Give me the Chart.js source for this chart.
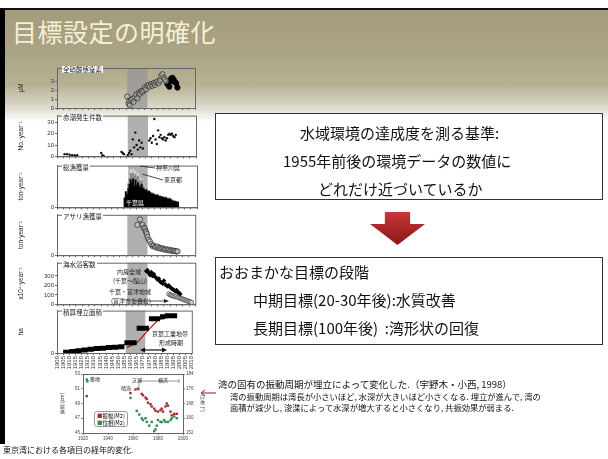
<!DOCTYPE html>
<html>
<head>
<meta charset="utf-8">
<script src="https://cdn.jsdelivr.net/npm/chart.js@4/dist/chart.umd.min.js"></script>
<style>
body { margin:0; width:608px; height:459px; overflow:hidden; background:#fff; font-family:"Noto Sans CJK JP", sans-serif; position:relative; }
#slide { position:absolute; left:0; top:8px; width:608px; height:436px; border-left:5px solid #000; border-top:2px solid #111; box-sizing:border-box;
  background:linear-gradient(180deg, #a39c7b 0px, #aba587 45px, #b8b295 75px, #d8d4c4 95px, #fff 112px); }
#title { position:absolute; left:12px; top:13px; font-size:25px; color:#f4f0d8; letter-spacing:0.5px; }
canvas { position:absolute; }
.lbl { position:absolute; font-size:6.5px; line-height:7px; background:#fff; padding:0 1px; color:#222; white-space:nowrap; }
.ann { position:absolute; font-size:6px; line-height:7px; color:#222; white-space:nowrap; }
.box { position:absolute; border:1px solid #333; background:#fff; box-sizing:border-box; }
.t15 { position:absolute; font-size:15px; color:#111; white-space:nowrap; }
#arrow { position:absolute; left:370px; top:212px; width:55px; height:33px;
  background:linear-gradient(180deg,#c7383a,#8e1515); clip-path:polygon(27% 0,73% 0,73% 36%,100% 36%,50% 100%,0 36%,27% 36%); }
.note { position:absolute; white-space:nowrap; color:#111; }
</style>
</head>
<body>
<div id="slide"></div>
<div id="title">目標設定の明確化</div>

<canvas id="p1" width="183" height="50" style="left:17px;top:63px"></canvas>
<canvas id="p2" width="183" height="50" style="left:17px;top:111px"></canvas>
<canvas id="p3" width="183" height="51" style="left:17px;top:161px"></canvas>
<canvas id="p4" width="183" height="50" style="left:17px;top:210px"></canvas>
<canvas id="p5" width="183" height="51" style="left:17px;top:258px"></canvas>
<canvas id="p6" width="183" height="68" style="left:17px;top:306px"></canvas>
<canvas id="inset" width="145" height="72" style="left:60px;top:370px"></canvas>

<div class="lbl" style="left:62px;top:66px">全硝酸態窒素</div>
<div class="lbl" style="left:62px;top:114px">赤潮発生件数</div>
<div class="lbl" style="left:62px;top:164px">総漁獲量</div>
<div class="lbl" style="left:62px;top:213px">アサリ漁獲量</div>
<div class="lbl" style="left:62px;top:261px">海水浴客数</div>
<div class="lbl" style="left:62px;top:309px">積算埋立面積</div>

<div class="ann" style="left:156px;top:164px">神奈川県</div>
<div class="ann" style="left:164px;top:176px">東京都</div>
<div class="ann" style="left:126px;top:199px;color:#fff">千葉県</div>
<div class="ann" style="left:117px;top:268px">内房全域</div>
<div class="ann" style="left:113px;top:277px">(千葉～館山)</div>
<div class="ann" style="left:109px;top:288px">千葉・富津地域</div>
<div class="ann" style="left:111px;top:297px">(富津市を含む)</div>
<div class="ann" style="left:152px;top:330px">京葉工業地帯</div>
<div class="ann" style="left:159px;top:339px">形成時期</div>

<svg style="position:absolute;left:0;top:0" width="608" height="459">
  <line x1="140" y1="166" x2="155" y2="168" stroke="#222" stroke-width="0.8"/>
  <line x1="142" y1="174" x2="163" y2="180" stroke="#222" stroke-width="0.8"/>
  <line x1="135" y1="301" x2="166" y2="301" stroke="#222" stroke-width="0.8"/>
  <polygon points="169,301 164,299 164,303" fill="#222"/>
  <line x1="143" y1="350" x2="164" y2="350" stroke="#111" stroke-width="1.2"/>
  <polygon points="140,350 145,347.5 145,352.5" fill="#111"/>
  <polygon points="167,350 162,347.5 162,352.5" fill="#111"/>
  <line x1="202" y1="393" x2="216" y2="393" stroke="#8b1a1a" stroke-width="1"/>
  <polyline points="205,390 201,393 205,396" fill="none" stroke="#8b1a1a" stroke-width="1"/>
  <line x1="139" y1="381" x2="179" y2="381" stroke="#555" stroke-width="0.6"/>
  <line x1="139" y1="379" x2="139" y2="391" stroke="#555" stroke-width="0.6"/>
  <line x1="179" y1="379" x2="179" y2="383" stroke="#555" stroke-width="0.6"/>
</svg>

<div class="ann" style="left:90px;top:375px;font-size:5px">築地</div>
<div class="ann" style="left:121px;top:384px;font-size:5px">晴海</div>
<div class="ann" style="left:132px;top:376px;font-size:5px">芝浦</div>
<div class="ann" style="left:158px;top:376px;font-size:5px">横浜</div>
<div style="position:absolute;left:94px;top:411px;width:34px;height:16px;border:0.8px solid #999;border-radius:3px;background:#fff;font-size:5.5px;line-height:7px;padding:1px 2px;box-sizing:border-box;white-space:nowrap">
  <span style="color:#a3302b">■</span>振幅(M2)<br><span style="color:#2e8b57">■</span>位相(M2)
</div>

<div class="note" style="left:3px;top:444px;font-size:8px">東京湾における各項目の経年的変化.</div>

<div class="box" style="left:215px;top:113px;width:388px;height:87px"></div>
<div class="t15" style="left:300px;top:122px">水域環境の達成度を測る基準:</div>
<div class="t15" style="left:283px;top:150px">1955年前後の環境データの数値に</div>
<div class="t15" style="left:318px;top:178px">どれだけ近づいているか</div>

<div id="arrow"></div>

<div class="box" style="left:215px;top:257px;width:388px;height:88px"></div>
<div class="t15" style="left:219px;top:261px">おおまかな目標の段階</div>
<div class="t15" style="left:253px;top:289px">中期目標(20-30年後):水質改善</div>
<div class="t15" style="left:253px;top:317px">長期目標(100年後)&nbsp;&nbsp;:湾形状の回復</div>

<div class="note" style="left:218px;top:377px;font-size:9.5px">湾の固有の振動周期が埋立によって変化した.（宇野木・小西, 1998）</div>
<div class="note" style="left:230px;top:390px;font-size:8.3px">湾の振動周期は湾長が小さいほど, 水深が大きいほど小さくなる. 埋立が進んで, 湾の</div>
<div class="note" style="left:230px;top:401px;font-size:8.3px">面積が減少し, 浚渫によって水深が増大すると小さくなり, 共振効果が弱まる.</div>

<script>
// gray band (high growth period) and data
const bandYears = [1956, 1972];

const nitrateOpenYears = [1956,1957,1957.5,1958,1959,1960,1961,1962,1963,1964,1965,1966,1967,1968,1969,1970,1971,1972,1973,1974,1975,1976,1977,1978,1979,1980,1981,1982,1983,1984,1985,1986,1987];
const nitrateOpen = [1.3,0.5,0.8,0.3,0.9,1.0,0.7,1.2,1.5,1.1,1.7,1.6,1.9,1.8,2.0,2.3,2.1,2.5,2.6,2.4,2.7,2.5,2.8,2.6,2.9,3.0,2.8,3.1,3.6,3.8,3.4,3.2,3.0];
const nitrateFilledYears = [1988,1989,1989.5,1990,1991,1992,1993,1994,1995,1996];
const nitrateFilled = [2.7,2.9,2.4,3.0,3.3,3.4,3.2,2.9,2.8,2.3];

const redTideYears = [1906,1908,1910,1912,1914,1916,1935,1936,1937,1951,1952,1953,1956,1957,1958,1959,1960,1961,1962,1963,1964,1965,1966,1967,1968,1973,1974,1975,1976,1977,1978,1979,1980,1981,1982,1983,1984,1985,1986,1987,1988,1989,1990,1991,1992,1993,1994];
const redTide = [2,2,1.5,1,1,1,3,1,0.5,4,3,2,1,3,5,2,15,8,21,10,6,14,8,12,7,14,16,12,18,33,15,11,23,17,19,16,15,17,14,16,19,20,19,20,18,17,19];

const catchYears = [1953,1954,1955,1956,1957,1958,1959,1960,1961,1962,1963,1964,1965,1966,1967,1968,1969,1970,1971,1972,1973,1974,1975,1976,1977,1978,1979,1980,1981,1982,1983,1984,1985,1986,1987,1988,1989,1990,1991,1992,1993,1994,1995,1996,1997];
const catchChiba = [30000,50000,40000,60000,75000,90000,80000,92000,70000,88000,72000,80000,70000,65000,75000,62000,58000,55000,57000,50000,52000,48000,45000,44000,42000,40000,38000,40000,36000,35000,34000,33000,32000,30000,31000,28000,27000,28000,25000,22000,20000,20000,18000,17000,16000];
const catchTokyo = [0,2000,5000,15000,20000,20000,25000,20000,30000,20000,25000,20000,18000,15000,12000,10000,8000,5000,4000,3000,2000,2000,2000,2000,2000,2000,2000,2000,2000,2000,2000,2000,2000,2000,2000,2000,2000,2000,2000,2000,2000,2000,2000,2000,2000];
const catchKanagawa = [0,0,2000,5000,8000,12000,10000,12000,15000,10000,12000,10000,8000,8000,6000,5000,4000,3000,2000,2000,1500,1500,1500,1500,1500,1500,1500,1500,1500,1500,1500,1500,1500,1500,1500,1500,1500,1500,1500,1500,1500,1500,1500,1500,1500];

const clamYears = [1964,1966,1968,1969,1970,1970.5,1971,1971.5,1972,1973,1974,1975,1976,1977,1978,1979,1980,1981,1982,1983,1984,1985,1986,1987,1988,1989,1990,1991,1992,1993,1994,1995,1996];
const clam = [66000,78000,66000,60000,58000,53000,50000,46000,40000,34000,30000,24000,20000,21000,18000,17000,19000,15000,16000,14000,15000,13000,12000,13000,11000,12000,10000,11000,9000,10000,9000,8000,8500];

const bathInnerYears = [1971,1972,1973,1974,1975,1976,1977,1978,1979,1980,1981,1982,1983,1984,1985,1986,1987,1988,1989,1990,1991,1992,1993,1994,1995,1996,1997,1998];
const bathInner = [350,360,330,310,340,300,320,290,280,260,270,240,230,220,250,210,200,190,200,180,170,160,150,140,150,130,120,110];
const bathFuttsuYears = [1989,1990,1991,1992,1993,1994,1995,1996,1997,1998,1999,2000,2001,2002,2003,2004,2005,2006,2007];
const bathFuttsu = [110,100,95,90,85,80,90,75,70,65,60,55,50,45,40,35,30,25,20];

// each reclamation level is held from its year to the next one
const reclaimYears = [1905,1910,1915,1920,1925,1930,1935,1940,1945,1950,1955,1965,1975,1984,1988,1998];
const reclaim = [500,1000,1500,2000,2500,3000,3300,3700,4000,4300,7000,17000,23500,24800,25500,25500];
const reclaimArrowYears = [1957,1965,1976,1983,1998];
const reclaimArrow = [3700,6800,17000,23000,25500];

const tideYearTicks = [1920,1930,1940,1950,1960,1970,1980,1990,2000];
const ampYears = [1923,1958,1962,1964,1967,1968,1970,1971,1972,1974,1975,1977,1978,1980,1982,1983,1984,1986,1987,1988,1990,1991,1993,1995];
const amp = [50.0,50.4,50.9,51.0,50.3,50.1,49.8,49.6,49.1,48.9,48.6,48.3,48.0,47.9,48.1,48.3,47.9,48.6,49.0,48.7,47.9,47.4,47.6,47.6];
const phaseYears = [1923,1923.5,1958,1963,1965,1967,1968,1970,1971,1973,1975,1977,1978,1979,1980,1982,1983,1985,1986,1988,1990,1991,1993,1995];
const phase = [181,180,171,164,162,160,159,160,158,156,158,153,154,156,159,158,158,159,158,158,159,160,161,160];

const pts = (xs, ys) => xs.map((x, i) => ({ x: x, y: ys[i] }));

// horizontal bars for each reclamation period, separated by gaps
const reclaimSegments = [];
for (let i = 0; i < reclaimYears.length - 1; i++) {
  reclaimSegments.push({ x: reclaimYears[i], y: reclaim[i] }, { x: reclaimYears[i + 1], y: reclaim[i] }, { x: reclaimYears[i + 1], y: null });
}

const plain = v => String(v);

const boxAndBand = {
  id: 'boxAndBand',
  beforeDatasetsDraw(chart, args, opts) {
    if (!opts.band) return;
    const a = chart.chartArea, x = chart.scales.x, ctx = chart.ctx;
    const x0 = x.getPixelForValue(bandYears[0]), x1 = x.getPixelForValue(bandYears[1]);
    ctx.save();
    ctx.fillStyle = 'rgba(150,150,150,0.75)';
    ctx.fillRect(x0, a.top, x1 - x0, a.bottom - a.top);
    ctx.restore();
  },
  afterDraw(chart) {
    const a = chart.chartArea, ctx = chart.ctx;
    ctx.save();
    ctx.strokeStyle = '#666';
    ctx.lineWidth = 1;
    ctx.strokeRect(a.left + 0.5, a.top + 0.5, a.right - a.left, a.bottom - a.top);
    ctx.restore();
  }
};
Chart.register(boxAndBand);

function panel(id, yMax, yStep, yTitle, datasets, bottom, stackY) {
  return new Chart(document.getElementById(id), {
    data: { datasets: datasets },
    options: {
      responsive: false, animation: false,
      layout: { padding: { top: 1, right: 3, left: 0, bottom: 0 } },
      plugins: { legend: { display: false }, tooltip: { enabled: false }, boxAndBand: { band: true } },
      scales: {
        x: {
          type: 'linear', min: 1900, max: 2010, stacked: stackY,
          afterBuildTicks: s => { s.ticks = s.ticks.filter(t => t.value % 5 === 0); },
          afterFit: s => { s.height = bottom ? 21 : 3; },
          ticks: { display: bottom, stepSize: 5, autoSkip: false, minRotation: 90, maxRotation: 90, padding: 1, callback: plain,
                   font: { size: 6, family: 'Liberation Sans' }, color: '#333' },
          grid: { drawOnChartArea: false, tickLength: 2, color: '#666' },
          border: { color: '#666' }
        },
        y: {
          min: 0, max: yMax, stacked: stackY,
          afterBuildTicks: s => { s.ticks = s.ticks.filter(t => Math.abs(t.value / yStep - Math.round(t.value / yStep)) < 1e-6); },
          afterFit: s => { s.width = 40; },
          ticks: { stepSize: yStep, padding: 1, callback: plain, font: { size: 6, family: 'Liberation Sans' }, color: '#333' },
          grid: { drawOnChartArea: false, tickLength: 2, color: '#666' },
          border: { color: '#666' },
          title: { display: true, text: yTitle, padding: 0, font: { size: 6.5, family: 'Liberation Sans' }, color: '#222' }
        }
      }
    }
  });
}

panel('p1', 4.5, 1, 'μM', [
  { type: 'scatter', data: pts(nitrateOpenYears, nitrateOpen), pointRadius: 2.6, borderColor: '#333', borderWidth: 0.8, backgroundColor: 'rgba(190,190,190,0.5)' },
  { type: 'scatter', data: pts(nitrateFilledYears, nitrateFilled), pointRadius: 2.6, borderColor: '#000', backgroundColor: '#000' }
], false, false);

panel('p2', 36, 10, 'No.·year⁻¹', [
  { type: 'scatter', data: pts(redTideYears, redTide), pointRadius: 1.2, borderWidth: 0, backgroundColor: '#111' }
], false, false);

const barOpts = { type: 'bar', barPercentage: 1, categoryPercentage: 1, borderWidth: 0 };
panel('p3', 135000, 50000, 'ton·year⁻¹', [
  Object.assign({ data: pts(catchYears, catchChiba), backgroundColor: '#000' }, barOpts),
  Object.assign({ data: pts(catchYears, catchTokyo), backgroundColor: '#8a8a8a' }, barOpts),
  Object.assign({ data: pts(catchYears, catchKanagawa), backgroundColor: '#d4d4d4' }, barOpts)
], false, true);

panel('p4', 88000, 20000, 'ton·year⁻¹', [
  { type: 'scatter', data: pts(clamYears, clam), pointRadius: 2.6, borderColor: '#333', borderWidth: 0.8, backgroundColor: 'rgba(200,200,200,0.6)' }
], false, false);

panel('p5', 440, 100, 'x10⁴·year⁻¹', [
  { type: 'scatter', data: pts(bathInnerYears, bathInner), pointStyle: 'rectRot', pointRadius: 2.4, borderWidth: 0, backgroundColor: '#000' },
  { type: 'scatter', data: pts(bathFuttsuYears, bathFuttsu), pointRadius: 2.2, borderColor: '#444', borderWidth: 0.7, backgroundColor: 'rgba(220,220,220,0.7)' }
], false, false);

panel('p6', 29000, 5000, 'ha', [
  { type: 'line', data: reclaimSegments, spanGaps: false, borderColor: '#000', borderWidth: 5, pointRadius: 0, borderCapStyle: 'butt' },
  { type: 'line', data: pts(reclaimArrowYears, reclaimArrow), borderColor: '#b01515', borderWidth: 1.2, pointRadius: 0 }
], true, false);

new Chart(document.getElementById('inset'), {
  data: { datasets: [
    { type: 'scatter', data: pts(ampYears, amp), yAxisID: 'y', pointStyle: 'rect', pointRadius: 1.7, borderWidth: 0, backgroundColor: '#a3302b' },
    { type: 'scatter', data: pts(phaseYears, phase), yAxisID: 'y2', pointStyle: 'rect', pointRadius: 1.7, borderWidth: 0, backgroundColor: '#2e8b57' }
  ] },
  options: {
    responsive: false, animation: false,
    layout: { padding: { top: 4, right: 0, left: 0, bottom: 0 } },
    plugins: { legend: { display: false }, tooltip: { enabled: false }, boxAndBand: { band: false } },
    scales: {
      x: { type: 'linear', min: 1920, max: 2000,
           afterBuildTicks: s => { s.ticks = tideYearTicks.map(v => ({ value: v })); },
           afterFit: s => { s.height = 9; },
           ticks: { padding: 1, callback: plain, font: { size: 4.5, family: 'Liberation Sans' }, color: '#444', maxRotation: 0 },
           grid: { drawOnChartArea: false, tickLength: 2, color: '#888' }, border: { color: '#888' } },
      y: { position: 'left', min: 45, max: 53,
           afterFit: s => { s.width = 23; },
           ticks: { stepSize: 1, padding: 1, callback: plain, font: { size: 4.5, family: 'Liberation Sans' }, color: '#444' },
           grid: { drawOnChartArea: false, tickLength: 2, color: '#888' }, border: { color: '#888' },
           title: { display: true, text: '振幅 (cm)', padding: 0, font: { size: 5 }, color: '#333' } },
      y2: { position: 'right', min: 152, max: 184,
           afterFit: s => { s.width = 22; },
           ticks: { stepSize: 4, padding: 1, callback: plain, font: { size: 4.5, family: 'Liberation Sans' }, color: '#444' },
           grid: { drawOnChartArea: false, tickLength: 2, color: '#888' }, border: { color: '#888' },
           title: { display: true, text: '位相 (°)', padding: 0, font: { size: 5 }, color: '#333' } }
    }
  }
});
</script>
</body>
</html>
